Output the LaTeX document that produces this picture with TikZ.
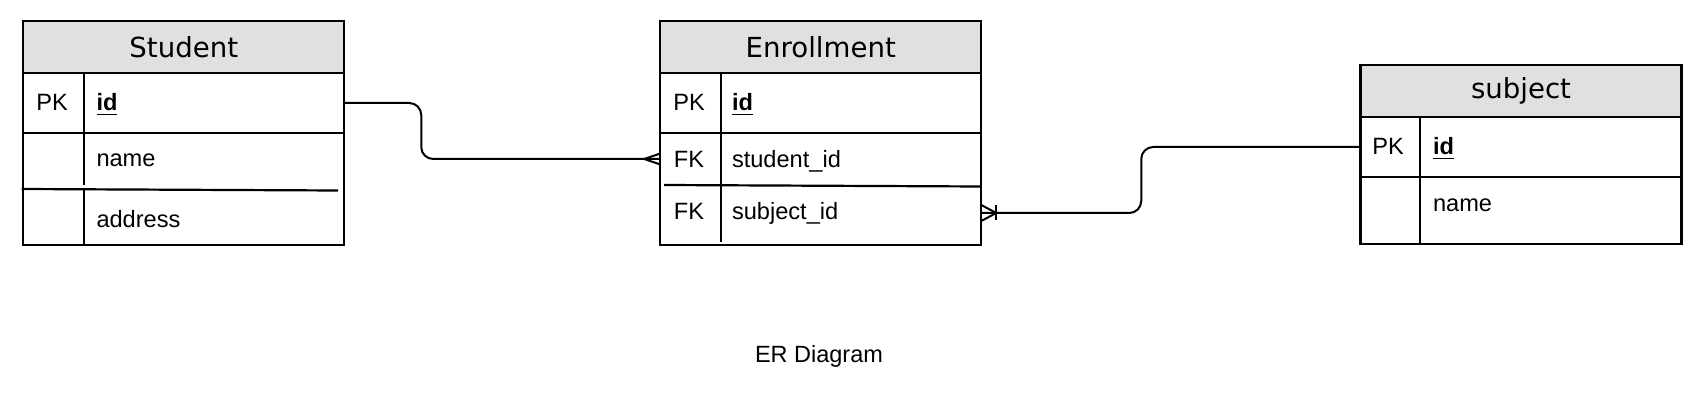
\documentclass[tikz,border=0pt]{standalone}
\usepackage{fontspec}
\setmainfont{Liberation Sans}
\newfontfamily\headfont{DejaVu Sans}
\usetikzlibrary{positioning}
\usetikzlibrary{calc}
\definecolor{headgray}{HTML}{E0E0E0}

\begin{document}
\begin{tikzpicture}[x=0.5pt, y=-0.5pt, line width=1.1pt,
    every node/.style={inner sep=0pt, outer sep=0pt},
    head/.style={draw, fill=headgray, minimum width=160.5pt, minimum height=26pt, font=\headfont\fontsize{13.8}{16}\selectfont},
    body/.style={draw, minimum width=160.5pt},
    cell/.style={minimum width=160.5pt, minimum height=28pt},
    txt/.style={anchor=base west, font=\fontsize{11.8}{14}\selectfont},
    key/.style={anchor=base, font=\fontsize{11.8}{14}\selectfont},
    link/.style={line width=1pt, rounded corners=6pt}]
        \useasboundingbox (0,0) rectangle (1702,406);

        % Student table
        \node[head] (stu-head) at (183.75,47) {Student};
        \node[body, minimum height=86pt] (stu-body) at (183.75,159) {};
        \draw (23.5,133) -- (344,133);
        \draw (21.7,189) -- (338,190.5);
        \draw (84,73) -- (84,185);
        \draw (84,190) -- (84,245);
        \node[key] (stu-pk) at (52,111) {PK};
        \node[txt] (stu-idtxt) at (96.5,111) {\textbf{\underline{id}}};
        \node[txt] (stu-name) at (96.5,167) {name};
        \node[txt] (stu-addr) at (96.5,228) {address};
        \node[cell] (stu-id) at (183.75,103) {};

        % Enrollment table
        \node[head] (enr-head) at (820.75,47) {Enrollment};
        \node[body, minimum height=86pt] (enr-body) at (820.75,159) {};
        \draw (660.5,133) -- (981,133);
        \draw (664,185) -- (981,186.5);
        \draw (721,73) -- (721,242);
        \node[key] (enr-pk) at (689,111) {PK};
        \node[txt] (enr-idtxt) at (732,111) {\textbf{\underline{id}}};
        \node[key] (enr-fk1) at (689,168) {FK};
        \node[txt] (enr-sidtxt) at (732,168) {student\_id};
        \node[key] (enr-fk2) at (689,220) {FK};
        \node[txt] (enr-subidtxt) at (732,220) {subject\_id};
        \node[cell] (enr-sid) at (820.75,159) {};
        \node[cell] (enr-subid) at (820.75,213) {};

        % subject table
        \node[head] (sub-head) at (1521,91) {subject};
        \node[body, minimum height=63.5pt] (sub-body) at (1521,180.5) {};
        \draw (1360.5,177) -- (1681.5,177);
        \draw (1420,117) -- (1420,244);
        \node[key] (sub-pk) at (1388,155) {PK};
        \node[txt] (sub-idtxt) at (1433,155) {\textbf{\underline{id}}};
        \node[txt] (sub-name) at (1433,211.5) {name};
        \node[cell] (sub-id) at (1521,147) {};

        % relations
        \draw[link] (stu-id.east) -- ++(77,0) |- (enr-sid.west);
        \draw[line width=1pt] (enr-sid.west) ++(0,-5.5) -- ++(-16,5.5) -- ++(16,5.5);

        \draw[link] (enr-subid.east) -- ++(160,0) |- (sub-id.west);
        \draw[line width=1pt] (enr-subid.east) ++(0,-8) -- ++(15,8) -- ++(-15,8);
        \draw[line width=1pt] (enr-subid.east) ++(15,-7.5) -- ++(0,15);

        \node[key, font=\fontsize{11.75}{14}\selectfont] (title) at (819,362) {ER Diagram};
      \end{tikzpicture}
\end{document}
